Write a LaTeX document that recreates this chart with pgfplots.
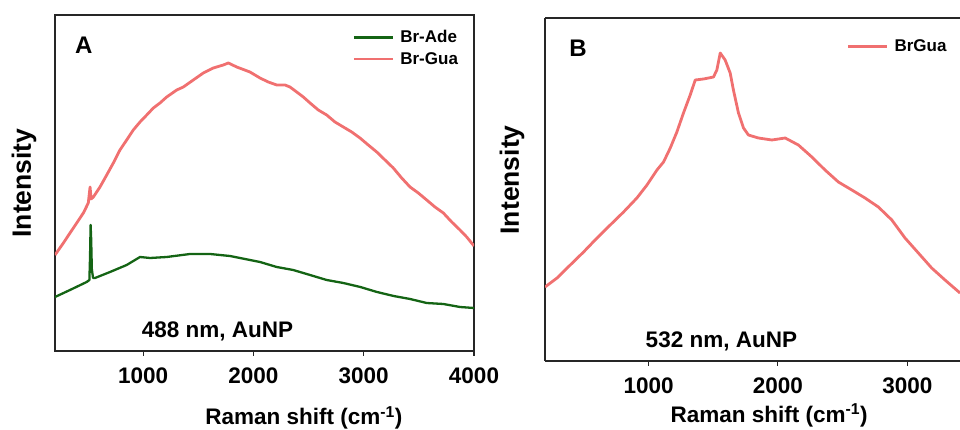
\documentclass[border=0pt]{standalone}
\usepackage{pgfplots}
\pgfplotsset{compat=1.18}
\usepackage{fontspec}
\setmainfont{Liberation Sans}
\definecolor{pinkc}{RGB}{240,112,112}
\definecolor{greenc}{RGB}{20,100,20}
\pgfplotsset{
  myax/.style={
    scale only axis,
    axis line style={line width=1.1pt, black!85},
    ytick=\empty,
    xtick={1000,2000,3000,4000},
    xtick pos=bottom, xtick align=outside,
    major tick length=5pt,
    every tick/.style={line width=1.1pt, black!85},
    /pgf/number format/assume math mode=true,
    /pgf/number format/set thousands separator={},
    xticklabel style={font=\bfseries\fontsize{22.5}{26}\selectfont, yshift=-8.5pt},
    xlabel style={font=\bfseries\fontsize{22.5}{26}\selectfont, anchor=base},
    ylabel style={font=\bfseries\fontsize{26.5}{30}\selectfont, rotate=0, anchor=center},
    legend cell align=left,
    legend image code/.code={\draw[#1, line width=2.5pt] (0pt,0pt) -- (39pt,0pt); \path (43pt,0pt);},
    legend style={draw=none, fill=none, inner sep=0pt, row sep=4pt,
      font=\bfseries\fontsize{17}{20}\selectfont, anchor=north west},
  }
}
\begin{document}
\begin{tikzpicture}[x=1pt,y=1pt]
% ---------- Panel A ----------
\begin{axis}[myax,
  at={(55pt,79pt)}, anchor=south west,
  width=419pt, height=336pt,
  xmin=200, xmax=4000, ymin=0, ymax=336,
  xlabel={Raman shift (cm\textsuperscript{-1})},
  xlabel style={at={(axis description cs:0.594,-0.220)}},
  ylabel={Intensity},
  ylabel style={at={(axis description cs:-0.074,0.5)}},
  legend style={at={(axis description cs:0.710,0.960)}},
]
\addplot[greenc, line width=2.3pt, line join=round] coordinates {
(200,54) (336,61) (487,69) (512,71) (518,95) (523,126) (528,112) (534,82) (545,73)
(563,73) (699,79) (850,86) (971,94) (1062,93) (1213,94) (1424,97) (1606,97)
(1787,95) (1968,91) (2059,89) (2211,84) (2360,81) (2513,76) (2664,71) (2815,68)
(2969,64) (3120,59) (3271,55) (3420,52) (3571,48) (3722,47) (3873,44) (4000,43)
};
\addlegendentry{Br-Ade}
\addplot[pinkc, line width=2.8pt, line join=round] coordinates {
(200,96) (276,108) (336,118) (397,128) (457,138) (502,148) (518,164) (528,152)
(548,154) (608,164) (669,176) (729,188) (789,201) (850,211) (910,221) (971,229)
(1032,236) (1092,243) (1152,248) (1213,254) (1304,261) (1364,264) (1454,271)
(1545,278) (1636,283) (1726,286) (1772,288) (1848,284) (1968,279) (2059,273)
(2134,269) (2211,266) (2286,266) (2331,264) (2392,259) (2452,254) (2513,248)
(2588,241) (2664,236) (2739,229) (2815,224) (2891,219) (2966,213) (3041,206)
(3118,199) (3193,191) (3268,183) (3344,173) (3420,164) (3495,158) (3571,151)
(3646,144) (3722,138) (3798,129) (3873,121) (3934,114) (4000,105)
};
\addlegendentry{Br-Gua}
\node[font=\bfseries\fontsize{24}{28}\selectfont] at (rel axis cs:0.069,0.909) {A};
\node[font=\bfseries\fontsize{22.5}{26}\selectfont, anchor=base] at (rel axis cs:0.388,0.039) {488 nm, AuNP};
\end{axis}
% ---------- Panel B ----------
\begin{axis}[myax,
  at={(545pt,69pt)}, anchor=south west,
  width=415pt, height=343pt,
  axis y line*=left,
  xmin=200, xmax=3407, ymin=0, ymax=343,
  xlabel={Raman shift (cm\textsuperscript{-1})},
  xlabel style={at={(axis description cs:0.540,-0.178)}},
  ylabel={Intensity},
  ylabel style={at={(axis description cs:-0.0795,0.528)}},
  legend style={at={(axis description cs:0.727,0.943)}},
]
\addplot[pinkc, line width=2.8pt, line join=round] coordinates {
(200,74) (293,83) (395,96) (498,109) (602,123) (704,136) (807,149) (910,163)
(988,176) (1065,191) (1116,199) (1168,213) (1219,229) (1270,248) (1322,266)
(1361,281) (1425,282) (1502,284) (1528,291) (1554,308) (1592,301) (1631,288)
(1656,271) (1695,248) (1734,233) (1772,226) (1849,223) (1953,221) (2056,223)
(2158,216) (2262,204) (2364,191) (2467,179) (2571,171) (2673,163) (2776,154)
(2880,141) (2982,123) (3085,108) (3188,93) (3291,81) (3407,68)
};
\addlegendentry{BrGua}
\node[font=\bfseries\fontsize{24}{28}\selectfont] at (rel axis cs:0.0795,0.9125) {B};
\node[font=\bfseries\fontsize{22.5}{26}\selectfont, anchor=base] at (rel axis cs:0.425,0.038) {532 nm, AuNP};
\end{axis}
\pgfresetboundingbox
\path (0pt,0pt) rectangle (960pt,430pt);
\end{tikzpicture}
\end{document}
